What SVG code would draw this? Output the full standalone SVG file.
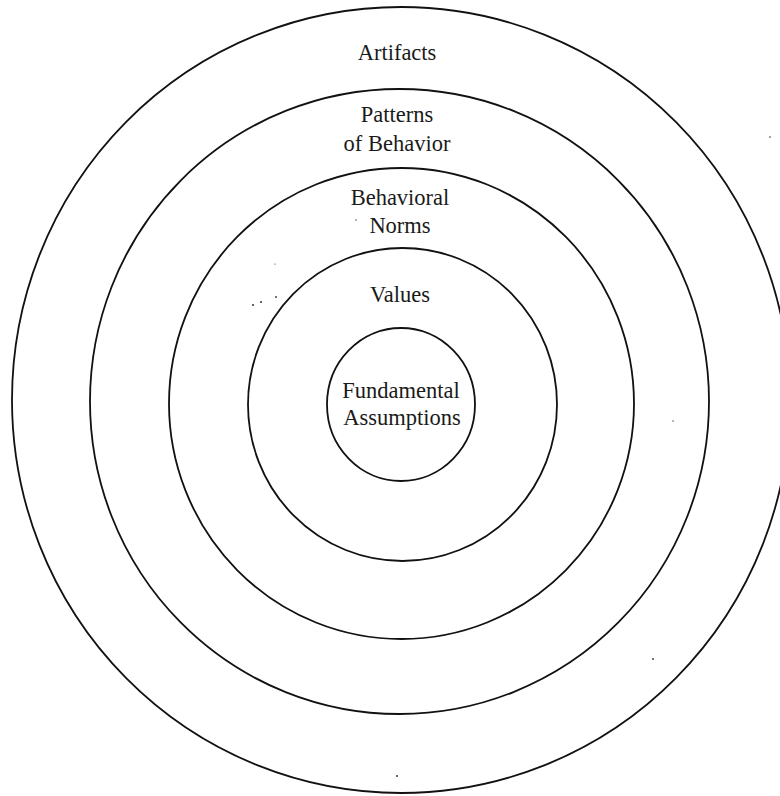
<svg xmlns="http://www.w3.org/2000/svg" width="780" height="796" viewBox="0 0 780 796">
<style>
.ring{fill:none;stroke:#111;stroke-width:1.8}
.lbl{font-family:"Liberation Serif","DejaVu Serif",serif;font-size:22.5px;fill:#1a1a1a;text-anchor:middle}
.speck{fill:#333}
</style>
<rect width="780" height="796" fill="#fff"/>
<g id="artifacts">
<ellipse class="ring" cx="401" cy="400" rx="389" ry="393"/>
<text class="lbl" x="397" y="60">Artifacts</text>
</g>
<g id="patterns-of-behavior">
<ellipse class="ring" cx="399.5" cy="401.5" rx="309.5" ry="312.5"/>
<text class="lbl" x="397" y="122">Patterns</text>
<text class="lbl" x="397" y="151">of Behavior</text>
</g>
<g id="behavioral-norms">
<ellipse class="ring" cx="401.5" cy="403.5" rx="232.5" ry="235.5"/>
<text class="lbl" x="400" y="205">Behavioral</text>
<text class="lbl" x="400" y="233">Norms</text>
</g>
<g id="values">
<ellipse class="ring" cx="402.5" cy="404.5" rx="154.5" ry="156.5"/>
<text class="lbl" x="400" y="302">Values</text>
</g>
<g id="fundamental-assumptions">
<ellipse class="ring" cx="401" cy="404.5" rx="74" ry="76.5"/>
<text class="lbl" x="401" y="398">Fundamental</text>
<text class="lbl" x="402" y="425">Assumptions</text>
</g>
<g id="connectors"></g>
<g id="specks">
<circle class="speck" cx="253" cy="305" r="1"/>
<circle class="speck" cx="261" cy="302" r="1"/>
<circle class="speck" cx="276" cy="297" r="0.9"/>
<circle class="speck" cx="275" cy="264" r="0.6"/>
<circle class="speck" cx="356" cy="220" r="0.7"/>
<circle class="speck" cx="770" cy="137" r="0.8"/>
<circle class="speck" cx="673" cy="421" r="0.7"/>
<circle class="speck" cx="653" cy="659" r="0.9"/>
<circle class="speck" cx="397" cy="776" r="1"/>
</g>
</svg>
